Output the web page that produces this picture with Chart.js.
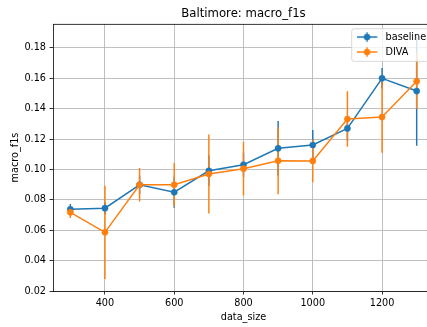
<!DOCTYPE html>
<html><head><meta charset="utf-8">
<script src="https://cdn.jsdelivr.net/npm/chart.js@4.4.1/dist/chart.umd.min.js"></script>
<style>html,body{margin:0;padding:0;overflow:hidden;background:#fff}#wrap{position:relative;width:440px;height:327px}</style>
</head><body><div id="wrap"><canvas id="c"></canvas></div>
<script>
const dataSizes = [300, 400, 500, 600, 700, 800, 900, 1000, 1100, 1200, 1300];
const baseline = [0.0738, 0.0745, 0.0899, 0.0850, 0.0991, 0.1031, 0.1139, 0.1161, 0.1270, 0.1600, 0.1516];
const baselineErr = [0.0035, 0.0040, 0.0060, 0.0102, 0.0100, 0.0080, 0.0180, 0.0098, 0.0080, 0.0068, 0.0360];
const diva = [0.0718, 0.0586, 0.0899, 0.0899, 0.0970, 0.1005, 0.1057, 0.1056, 0.1332, 0.1345, 0.1580];
const divaErr = [0.0037, 0.0307, 0.0110, 0.0143, 0.0260, 0.0177, 0.0220, 0.0140, 0.0183, 0.0235, 0.0180];
const xTicks = [400, 600, 800, 1000, 1200];
const yTicks = [0.02, 0.04, 0.06, 0.08, 0.10, 0.12, 0.14, 0.16, 0.18];
const seriesNames = ['baseline', 'DIVA'];
const titleText = 'Baltimore: macro_f1s';
const xLabel = 'data_size';
const yLabel = 'macro_f1s';

const BLUE = '#1f77b4', ORANGE = '#ff7f0e';
const FONT = "'DejaVu Sans', sans-serif";

function points(vals) { return dataSizes.map((x, i) => ({x: x, y: vals[i]})); }
function bars(vals, errs) {
  const out = [];
  dataSizes.forEach((x, i) => { out.push({x: x, y: vals[i] - errs[i]}, {x: x, y: vals[i] + errs[i]}, {x: x, y: null}); });
  return out;
}
function icon(color) {
  const c = document.createElement('canvas'); c.width = 24; c.height = 12;
  const g = c.getContext('2d');
  g.strokeStyle = color; g.lineWidth = 1.46;
  g.beginPath(); g.moveTo(0, 6); g.lineTo(20.6, 6); g.moveTo(10.3, 1.3); g.lineTo(10.3, 10.7); g.stroke();
  g.fillStyle = color; g.beginPath(); g.arc(10.3, 6, 3.2, 0, Math.PI * 2); g.fill();
  return c;
}
const icons = [icon(BLUE), icon(ORANGE)];

function drawLegendFrame(chart) {
  const ca = chart.chartArea, ctx = chart.ctx;
  const x = ca.right - 82.3, y = ca.top + 4.7, w = 77.3, h = 32.6, r = 2.5;
  ctx.save();
  ctx.beginPath();
  ctx.roundRect(x, y, w, h, r);
  ctx.fillStyle = 'rgba(255,255,255,0.8)';
  ctx.fill();
  ctx.strokeStyle = 'rgba(204,204,204,0.8)';
  ctx.lineWidth = 0.97;
  ctx.stroke();
  ctx.restore();
}

const placer = {
  id: 'placer',
  beforeLayout(chart) {
    const lg = chart.legend;
    if (lg && !lg._patched) {
      lg._patched = true;
      lg._layers = () => [{z: 10, draw: (area) => { drawLegendFrame(chart); lg.draw(area); }}];
    }
  },
  afterLayout(chart) {
    const ca = chart.chartArea;
    const t = chart.titleBlock;
    if (t) { t.left = ca.left; t.right = ca.right; }
    const lg = chart.legend;
    if (lg) {
      const w = lg.width, h = lg.height;
      lg.left = ca.right - 82.6; lg.right = lg.left + w;
      lg.top = ca.top + 2.85; lg.bottom = lg.top + h;
    }
  },
  afterDatasetsDraw(chart) {
    const ca = chart.chartArea, ctx = chart.ctx;
    ctx.save();
    ctx.strokeStyle = '#000'; ctx.lineWidth = 0.8;
    ctx.beginPath();
    ctx.moveTo(ca.left, Math.round(ca.top) + 0.4); ctx.lineTo(ca.right, Math.round(ca.top) + 0.4);
    ctx.moveTo(ca.right, ca.top); ctx.lineTo(ca.right, ca.bottom);
    ctx.stroke();
    ctx.restore();
  }
};

const lineStyle = (color) => ({
  borderColor: color, backgroundColor: color, borderWidth: 1.46,
  pointRadius: 3.1, pointBorderWidth: 0.5, pointBackgroundColor: color, pointBorderColor: color,
  pointHoverRadius: 3.1, tension: 0, fill: false
});
const barStyle = (color) => ({
  borderColor: color, backgroundColor: color, borderWidth: 1.46,
  pointRadius: 0, pointHoverRadius: 0, spanGaps: false, tension: 0, fill: false
});

new Chart(document.getElementById('c'), {
  type: 'line',
  data: {
    datasets: [
      Object.assign({label: seriesNames[0], data: points(baseline), order: 2}, lineStyle(BLUE)),
      Object.assign({label: seriesNames[1], data: points(diva), order: 1}, lineStyle(ORANGE)),
      Object.assign({label: seriesNames[0] + ' err', data: bars(baseline, baselineErr), order: 4}, barStyle(BLUE)),
      Object.assign({label: seriesNames[1] + ' err', data: bars(diva, divaErr), order: 3}, barStyle(ORANGE))
    ]
  },
  options: {
    responsive: true, maintainAspectRatio: false, animation: false,
    layout: {padding: {left: 0, right: 6, top: 0, bottom: 0}},
    plugins: {
      title: {display: true, text: titleText, color: '#000', font: {family: FONT, size: 11.7, weight: 'normal'}, padding: {top: 7, bottom: 3}},
      legend: {
        position: 'chartArea', align: 'start',
        labels: {
          usePointStyle: true, pointStyleWidth: 24, padding: 5.3, color: '#000',
          font: {family: FONT, size: 9.7},
          generateLabels(chart) {
            const items = Chart.defaults.plugins.legend.labels.generateLabels(chart).filter(it => it.datasetIndex < 2);
            items.forEach(it => { it.pointStyle = icons[it.datasetIndex]; it.fontColor = '#000'; });
            items.sort((a, b) => a.datasetIndex - b.datasetIndex);
            return items;
          }
        }
      },
      tooltip: {enabled: false}
    },
    scales: {
      x: {
        type: 'linear', min: 250, max: 1350,
        afterBuildTicks: (s) => { s.ticks = xTicks.map(v => ({value: v})); },
        afterFit: (s) => { s.height = 36; },
        grid: {color: '#b0b0b0', lineWidth: 0.8, tickLength: 3.5, tickColor: '#000', tickWidth: 0.8},
        border: {color: '#000', width: 0.8},
        ticks: {color: '#000', font: {family: FONT, size: 9.7}, padding: 3.5, autoSkip: false, maxRotation: 0, callback: (v) => String(v)},
        title: {display: true, text: xLabel, color: '#000', font: {family: FONT, size: 9.7}, padding: {top: 0, bottom: 4.2}}
      },
      y: {
        type: 'linear', min: 0.02, max: 0.1957,
        afterBuildTicks: (s) => { s.ticks = yTicks.map(v => ({value: v})); },
        afterFit: (s) => { s.width = 53; },
        grid: {color: '#b0b0b0', lineWidth: 0.8, tickLength: 3.5, tickColor: '#000', tickWidth: 0.8},
        border: {color: '#000', width: 0.8},
        ticks: {color: '#000', font: {family: FONT, size: 9.7}, padding: 3.5, autoSkip: false, callback: (v) => Number(v).toFixed(2)},
        title: {display: true, text: yLabel, color: '#000', font: {family: FONT, size: 9.7}, padding: {top: 9.2, bottom: 0}}
      }
    }
  },
  plugins: [placer]
});
</script>
</body></html>
